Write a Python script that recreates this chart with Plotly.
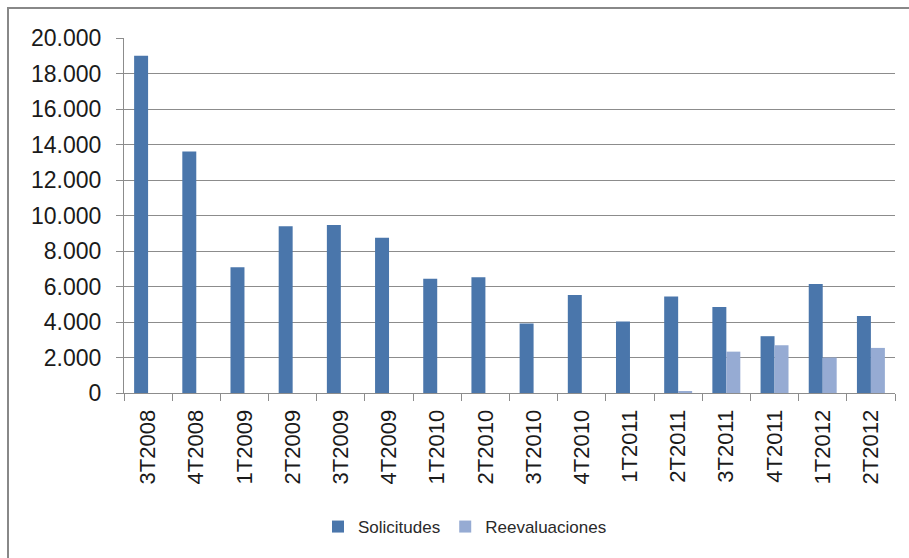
import plotly.graph_objects as go

categories = ["3T2008", "4T2008", "1T2009", "2T2009", "3T2009", "4T2009", "1T2010", "2T2010",
              "3T2010", "4T2010", "1T2011", "2T2011", "3T2011", "4T2011", "1T2012", "2T2012"]
solicitudes = [19000, 13600, 7080, 9390, 9460, 8750, 6430, 6520,
               3920, 5520, 4030, 5430, 4850, 3200, 6140, 4340]
reevaluaciones = [0, 0, 0, 0, 0, 0, 0, 0,
                  0, 0, 0, 80, 2330, 2690, 2000, 2540]
y_ticks = [0, 2000, 4000, 6000, 8000, 10000, 12000, 14000, 16000, 18000, 20000]
y_tick_labels = ["0", "2.000", "4.000", "6.000", "8.000", "10.000", "12.000",
                 "14.000", "16.000", "18.000", "20.000"]

W, H = 909, 558
L, R, T, B = 124, 14, 38, 165
pw, ph = W - L - R, H - T - B

fig = go.Figure()
fig.add_trace(go.Bar(name="Solicitudes", x=categories, y=solicitudes,
                     marker=dict(color="#4a76ab", line=dict(width=0))))
fig.add_trace(go.Bar(name="Reevaluaciones", x=categories, y=reevaluaciones,
                     marker=dict(color="#96abd3", line=dict(width=0))))

font_family = "Liberation Sans, Arial, sans-serif"
fig.update_layout(
    width=W, height=H,
    margin=dict(l=L, r=R, t=T, b=B),
    paper_bgcolor="white", plot_bgcolor="white",
    barmode="group", bargap=0.42, bargroupgap=0.0,
    font=dict(family=font_family, color="#1a1a1a"),
    showlegend=True,
    legend=dict(orientation="h", x=(465 - L) / pw, xanchor="center",
                y=(H - B - 527) / ph, yanchor="middle",
                font=dict(size=17, color="#2a2a2a"), itemwidth=30,
                bgcolor="rgba(0,0,0,0)"),
    xaxis=dict(
        type="category", tickangle=-90, tickfont=dict(size=22),
        showline=True, linecolor="#8c8c8c", linewidth=1,
        ticks="outside", tickson="boundaries", ticklen=7, tickcolor="#8c8c8c",
        ticklabelstandoff=7, showgrid=False,
    ),
    yaxis=dict(
        range=[0, 20000], tickvals=y_ticks, ticktext=y_tick_labels,
        tickfont=dict(size=23),
        showline=True, linecolor="#8c8c8c", linewidth=1,
        ticks="outside", ticklen=7, tickcolor="#8c8c8c",
        ticklabelstandoff=10,
        showgrid=True, gridcolor="#8c8c8c", gridwidth=1, zeroline=False,
    ),
    shapes=[dict(type="rect", xref="paper", yref="paper",
                 x0=(8 - L) / pw, x1=(916 - L) / pw,
                 y0=(H - B - 566) / ph, y1=(H - B - 8) / ph,
                 line=dict(color="#888888", width=2), fillcolor="rgba(0,0,0,0)",
                 layer="below")],
)

fig.write_html("out.html")
